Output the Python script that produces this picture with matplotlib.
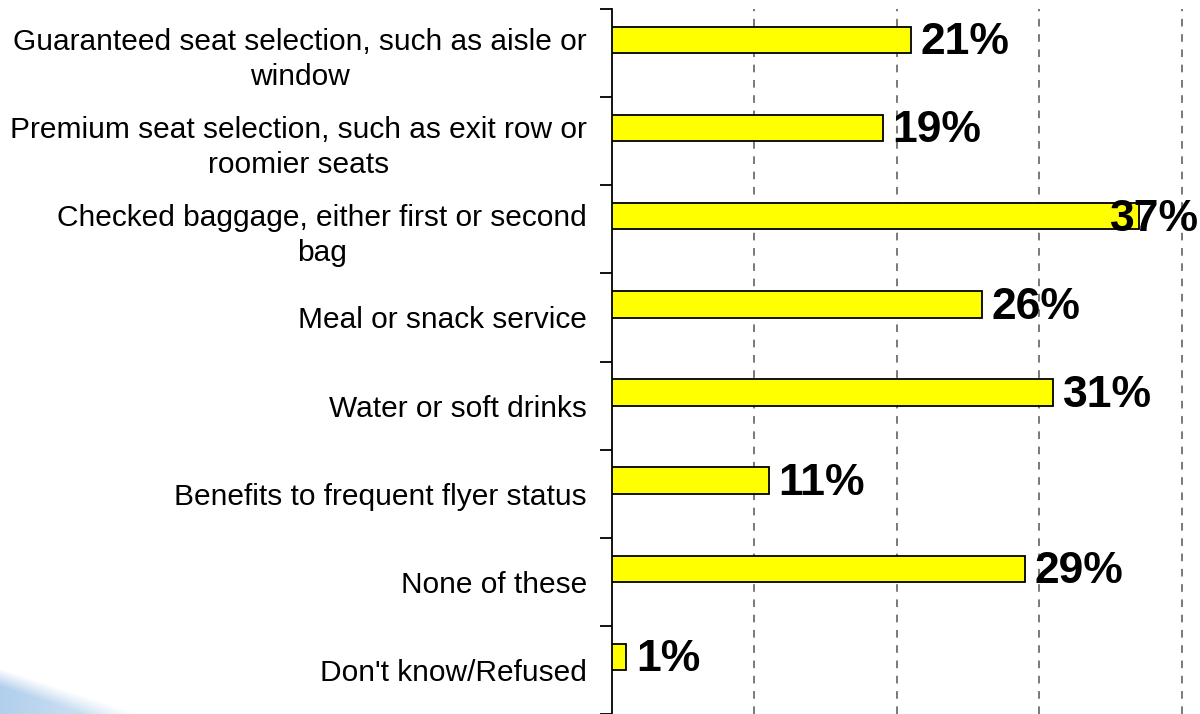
import numpy as np
import matplotlib.pyplot as plt

plt.rcParams['font.family'] = ['Liberation Sans', 'DejaVu Sans']

categories = [
    "Guaranteed seat selection, such as aisle or\nwindow",
    "Premium seat selection, such as exit row or\nroomier seats",
    "Checked baggage, either first or second\nbag",
    "Meal or snack service",
    "Water or soft drinks",
    "Benefits to frequent flyer status",
    "None of these",
    "Don't know/Refused",
]
values = [21, 19, 37, 26, 31, 11, 29, 1]
value_labels = ["21%", "19%", "37%", "26%", "31%", "11%", "29%", "1%"]

fig = plt.figure(figsize=(12, 7.14), dpi=100)

# soft blue swoosh in the lower left corner
bg = fig.add_axes([0, 0, 240 / 1200, 50 / 714], zorder=0)
gx, gy = np.meshgrid(np.arange(240), np.arange(50))
d = gy - (36 - gx * 36 / 110.0)     # >0 above the diagonal edge
alpha = np.clip(0.5 - d / 18.0, 0, 1) * np.clip(1 - gx / 240.0, 0, 1)
img = np.zeros((50, 240, 4))
img[..., 0] = 0.66
img[..., 1] = 0.79
img[..., 2] = 0.92
img[..., 3] = alpha * 0.9
bg.imshow(img, origin='lower', aspect='auto', interpolation='bilinear')
bg.axis('off')

ax = fig.add_axes([612 / 1200, 0, 588 / 1200, 1 - 9 / 714], zorder=1)
ax.patch.set_alpha(0)

y = np.arange(len(categories))
bar_y = y - 0.148
ax.barh(bar_y, values, height=0.3, color='#ffff00', edgecolor='black',
        linewidth=1.3, zorder=3)

xmax = 588 / 14.24
for yy, v, lab in zip(bar_y, values, value_labels):
    if v + 7.0 > xmax:
        ax.annotate(lab, (xmax - 0.1, yy), xytext=(0, -2),
                    textcoords='offset points', ha='right', va='center',
                    fontsize=32, fontweight='bold', zorder=4)
    else:
        ax.annotate(lab, (v, yy), xytext=(7, -2), textcoords='offset points',
                    ha='left', va='center', fontsize=32, fontweight='bold',
                    zorder=4)

ax.set_xlim(0, xmax)
ax.set_ylim(len(categories) - 0.5, -0.5)

ax.set_xticks([10, 20, 30, 40])
ax.tick_params(axis='x', length=0, labelbottom=False)
ax.xaxis.grid(True, linestyle=(0, (5, 5)), color='#555555', linewidth=1.1)
ax.set_axisbelow(True)

ax.set_yticks(y)
ax.set_yticklabels(categories, fontsize=21.5, multialignment='center',
                   linespacing=1.3)
ax.tick_params(axis='y', which='major', length=0, pad=18)
ax.set_yticks(np.arange(len(categories) + 1) - 0.5, minor=True)
ax.tick_params(axis='y', which='minor', length=9, width=1.3, direction='out')

for s in ['top', 'right', 'bottom']:
    ax.spines[s].set_visible(False)
ax.spines['left'].set_linewidth(1.3)

fig.savefig('out.png', dpi=100)
